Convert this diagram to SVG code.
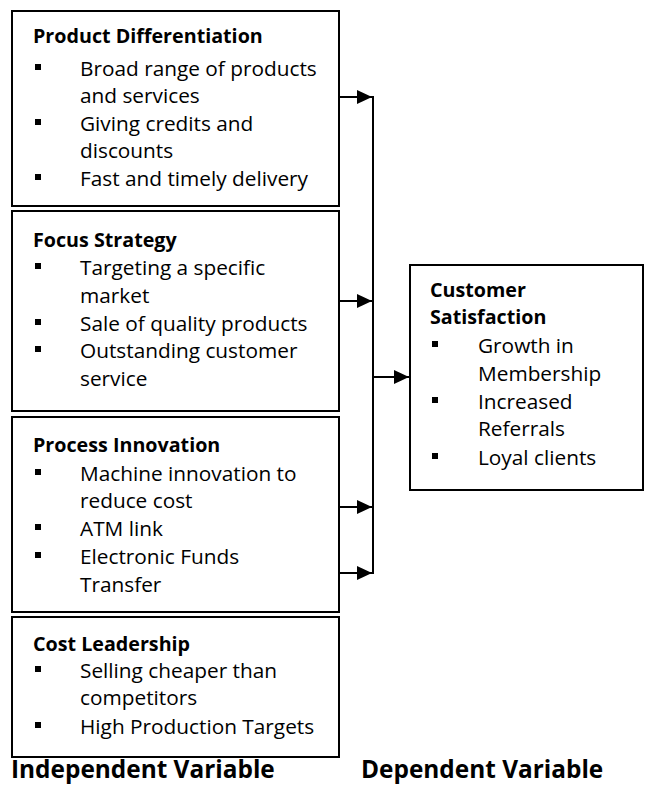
<svg xmlns="http://www.w3.org/2000/svg" width="646" height="785" viewBox="0 0 646 785">
<style>
.box{fill:#fff;stroke:#000;stroke-width:2}
text{font-family:"Open Sans","Liberation Sans",sans-serif;font-size:20.8px;fill:#000}
.t{font-weight:bold;font-size:19.7px}
.big{font-weight:bold;font-size:24.4px}
.b{fill:#000}
.ln{stroke:#000;stroke-width:2;fill:none}
</style>
<defs>
<marker id="ah" markerWidth="15" markerHeight="14" refX="15" refY="7" orient="auto" markerUnits="userSpaceOnUse">
<path d="M0,0 L15,7 L0,14 Z" fill="#000"/>
</marker>
</defs>
<g id="product-differentiation">
<rect class="box" x="12" y="11" width="327" height="195"/>
<text class="t" x="33" y="43">Product Differentiation</text>
<rect class="b" x="35" y="64" width="6" height="6"/><text x="80" y="76">Broad range of products</text>
<text x="80" y="103">and services</text>
<rect class="b" x="35" y="119" width="6" height="6"/><text x="80" y="131">Giving credits and</text>
<text x="80" y="158">discounts</text>
<rect class="b" x="35" y="174" width="6" height="6"/><text x="80" y="186">Fast and timely delivery</text>
</g>
<g id="focus-strategy">
<rect class="box" x="12" y="211" width="327" height="200"/>
<text class="t" x="33" y="247">Focus Strategy</text>
<rect class="b" x="35" y="263" width="6" height="6"/><text x="80" y="275">Targeting a specific</text>
<text x="80" y="303">market</text>
<rect class="b" x="35" y="319" width="6" height="6"/><text x="80" y="331">Sale of quality products</text>
<rect class="b" x="35" y="346" width="6" height="6"/><text x="80" y="358">Outstanding customer</text>
<text x="80" y="386">service</text>
</g>
<g id="process-innovation">
<rect class="box" x="12" y="417" width="327" height="195"/>
<text class="t" x="33" y="452">Process Innovation</text>
<rect class="b" x="35" y="469" width="6" height="6"/><text x="80" y="481">Machine innovation to</text>
<text x="80" y="508">reduce cost</text>
<rect class="b" x="35" y="524" width="6" height="6"/><text x="80" y="536">ATM link</text>
<rect class="b" x="35" y="552" width="6" height="6"/><text x="80" y="564">Electronic Funds</text>
<text x="80" y="592">Transfer</text>
</g>
<g id="cost-leadership">
<rect class="box" x="12" y="617" width="327" height="140"/>
<text class="t" x="33" y="651">Cost Leadership</text>
<rect class="b" x="35" y="666" width="6" height="6"/><text x="80" y="678">Selling cheaper than</text>
<text x="80" y="705">competitors</text>
<rect class="b" x="35" y="722" width="6" height="6"/><text x="80" y="734">High Production Targets</text>
</g>
<g id="customer-satisfaction">
<rect class="box" x="410" y="265" width="233" height="225"/>
<text class="t" x="430" y="297">Customer</text>
<text class="t" x="430" y="324">Satisfaction</text>
<rect class="b" x="432" y="341" width="6" height="6"/><text x="478" y="353">Growth in</text>
<text x="478" y="381">Membership</text>
<rect class="b" x="432" y="397" width="6" height="6"/><text x="478" y="409">Increased</text>
<text x="478" y="436">Referrals</text>
<rect class="b" x="432" y="453" width="6" height="6"/><text x="478" y="465">Loyal clients</text>
</g>
<g id="labels">
<text class="big" x="11" y="778">Independent Variable</text>
<text class="big" x="361" y="778">Dependent Variable</text>
</g>
<g id="connectors">
<line class="ln" x1="373" y1="96" x2="373" y2="574"/>
<line class="ln" x1="339" y1="97" x2="372" y2="97" marker-end="url(#ah)"/>
<line class="ln" x1="339" y1="301" x2="372" y2="301" marker-end="url(#ah)"/>
<line class="ln" x1="339" y1="507" x2="372" y2="507" marker-end="url(#ah)"/>
<line class="ln" x1="339" y1="573" x2="372" y2="573" marker-end="url(#ah)"/>
<line class="ln" x1="374" y1="377" x2="409" y2="377" marker-end="url(#ah)"/>
</g>
</svg>
